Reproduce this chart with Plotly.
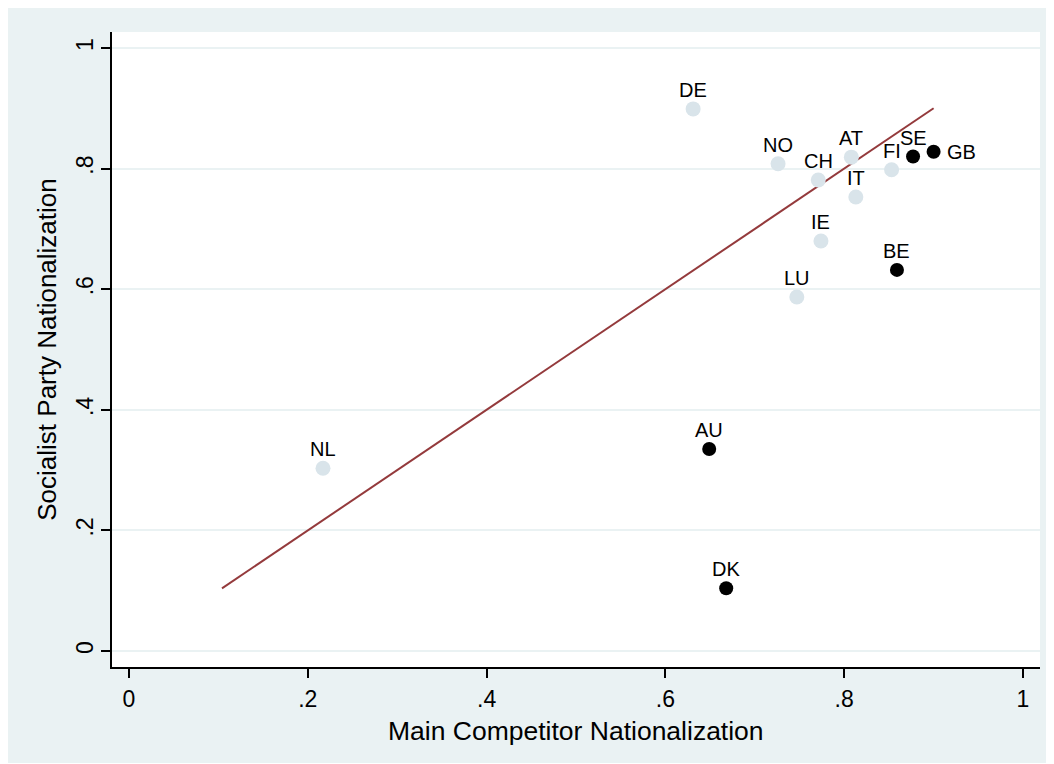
import plotly.graph_objects as go

# Data
countries = ["DE", "NO", "CH", "AT", "FI", "IT", "IE", "LU", "NL", "SE", "GB", "BE", "AU", "DK"]
competitor = [0.631, 0.726, 0.771, 0.808, 0.853, 0.813, 0.774, 0.747, 0.217, 0.877, 0.900, 0.859, 0.649, 0.668]
socialist = [0.899, 0.808, 0.781, 0.819, 0.798, 0.753, 0.680, 0.587, 0.303, 0.820, 0.828, 0.632, 0.335, 0.104]
group = ["light"] * 9 + ["dark"] * 5
label_side = ["top"] * 10 + ["right"] + ["top"] * 3

tick_vals = [0, 0.2, 0.4, 0.6, 0.8, 1]
tick_text = ["0", ".2", ".4", ".6", ".8", "1"]

BG = "#EAF2F3"
FONT = "Liberation Sans, Arial, sans-serif"

fig = go.Figure()

all_vals = competitor + socialist
lo, hi = min(all_vals), max(all_vals)
fig.add_trace(go.Scatter(x=[lo, hi], y=[lo, hi], mode="lines",
                         line=dict(color="#943A3C", width=2), showlegend=False, hoverinfo="skip"))

for g, col, size in [("light", "#D9E4EA", 15), ("dark", "#000000", 14)]:
    idx = [i for i, v in enumerate(group) if v == g]
    fig.add_trace(go.Scatter(
        x=[competitor[i] for i in idx], y=[socialist[i] for i in idx],
        mode="markers",
        marker=dict(color=col, size=size, line=dict(width=0)),
        showlegend=False, cliponaxis=False,
    ))

annotations = []
for c, xv, yv, side in zip(countries, competitor, socialist, label_side):
    if side == "top":
        annotations.append(dict(x=xv, y=yv, xref="x", yref="y", text=c, showarrow=False,
                                xanchor="center", yanchor="middle", yshift=19,
                                font=dict(family=FONT, size=20, color="black")))
    else:
        annotations.append(dict(x=xv, y=yv, xref="x", yref="y", text=c, showarrow=False,
                                xanchor="left", yanchor="middle", xshift=11, yshift=0,
                                font=dict(family=FONT, size=20, color="black")))

# page is offset by the 8px body margin
OFF = 8
W, H = 1054 - OFF, 764 - OFF
L, T = 112 - OFF, 32 - OFF
R = W - (1040 - OFF)
B = H - (667 - OFF)
pw, ph = W - L - R, H - T - B
plot_bottom = H - B

# x-axis title
annotations.append(dict(x=(575.5 - 112) / pw, y=-(731 - 667) / ph, xref="paper", yref="paper",
                        text="Main Competitor Nationalization", showarrow=False,
                        xanchor="center", yanchor="middle",
                        font=dict(family=FONT, size=26.5, color="black")))

shapes = [
    dict(type="rect", xref="paper", yref="paper",
         x0=(0 - L) / pw, x1=(W - L) / pw,
         y0=-((763 - OFF) - plot_bottom) / ph, y1=(plot_bottom - 0) / ph,
         fillcolor=BG, line=dict(width=0), layer="below"),
    dict(type="rect", xref="paper", yref="paper", x0=0, x1=1, y0=0, y1=1,
         fillcolor="white", line=dict(width=0), layer="below"),
]

fig.update_layout(
    width=W, height=H,
    margin=dict(l=L, r=R, t=T, b=B, pad=0),
    paper_bgcolor="white", plot_bgcolor="rgba(0,0,0,0)",
    font=dict(family=FONT, size=22, color="black"),
    shapes=shapes, annotations=annotations,
    xaxis=dict(range=[-0.019, 1.019], tickvals=tick_vals, ticktext=tick_text,
               showgrid=False, zeroline=False, showline=True, linecolor="black", linewidth=1.5,
               ticks="outside", ticklen=9, tickwidth=1.5, tickcolor="black",
               tickfont=dict(size=23), ticklabelstandoff=2),
    yaxis=dict(range=[-0.0265, 1.0265], tickvals=tick_vals, ticktext=tick_text,
               showgrid=True, gridcolor=BG, gridwidth=1.5, zeroline=False,
               showline=True, linecolor="black", linewidth=1.5,
               ticks="outside", ticklen=9, tickwidth=1.5, tickcolor="black",
               tickangle=-90, tickfont=dict(size=23), ticklabelstandoff=-1,
               title=dict(text="Socialist Party Nationalization", font=dict(size=26), standoff=8)),
)

fig.write_html("out.html")
